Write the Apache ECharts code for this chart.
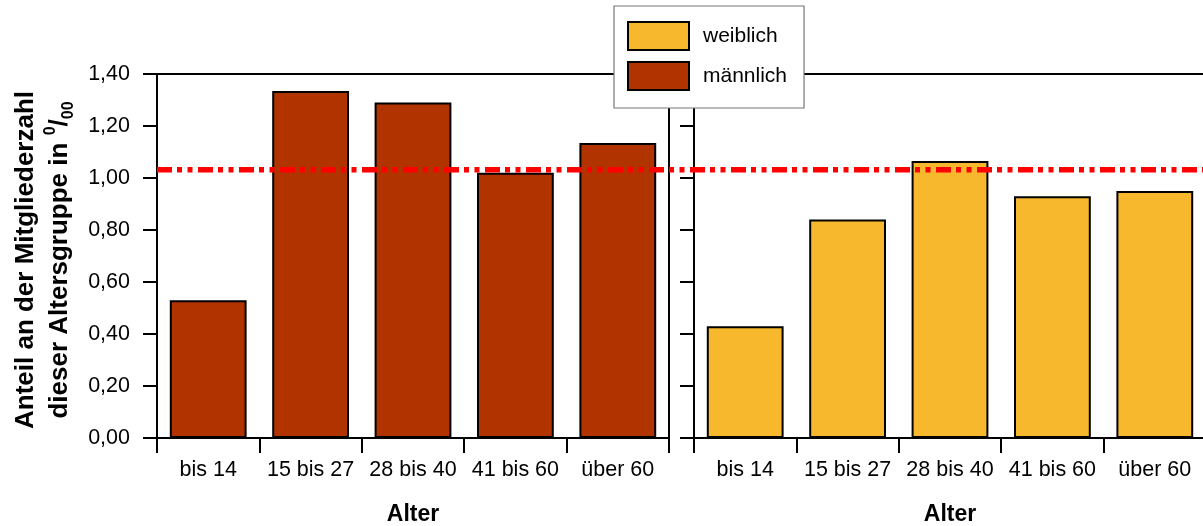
<!DOCTYPE html>
<html>
<head>
<meta charset="utf-8">
<script src="https://cdn.jsdelivr.net/npm/echarts@6/dist/echarts.min.js"></script>
<style>
  html, body { margin: 0; padding: 0; background: #fff; }
  #chart { width: 1203px; height: 526px; }
</style>
</head>
<body>
<div id="chart"></div>
<script>
// ---- data ----
const categories = ['bis 14', '15 bis 27', '28 bis 40', '41 bis 60', 'über 60'];
const maleValues = [0.53, 1.335, 1.29, 1.02, 1.135];
const femaleValues = [0.43, 0.84, 1.065, 0.93, 0.95];
const referenceValue = 1.032;
const yMin = 0;
const yMax = 1.4;
const yInterval = 0.2;
const xAxisTitle = 'Alter';
const legendNames = ['weiblich', 'männlich'];

// ---- styles ----
const FONT = '"Liberation Sans", Arial, sans-serif';
const MALE_COLOR = '#B03300';
const FEMALE_COLOR = '#F8B82E';

const chart = echarts.init(document.getElementById('chart'), null, { renderer: 'canvas' });

function catAxis(gridIndex) {
  return {
    type: 'category',
    gridIndex: gridIndex,
    data: categories,
    boundaryGap: true,
    axisLine: { show: true, lineStyle: { color: '#000', width: 2 } },
    axisTick: { show: true, interval: 0, length: 15, lineStyle: { color: '#000', width: 2 } },
    axisLabel: { show: true, interval: 0, color: '#000', fontSize: 21.5, fontFamily: FONT, margin: 21 },
    name: xAxisTitle,
    nameLocation: 'middle',
    nameGap: 65,
    nameTextStyle: { color: '#000', fontSize: 23, fontWeight: 'bold', fontFamily: FONT },
    splitLine: { show: false }
  };
}

function valAxis(gridIndex, showLabels) {
  const ax = {
    type: 'value',
    gridIndex: gridIndex,
    min: yMin,
    max: yMax,
    interval: yInterval,
    axisLine: { show: true, lineStyle: { color: '#000', width: 2 } },
    axisTick: { show: true, length: 14, lineStyle: { color: '#000', width: 2 } },
    axisLabel: {
      show: showLabels,
      color: '#000',
      fontSize: 21.5,
      fontFamily: FONT,
      margin: 27,
      formatter: v => v.toFixed(2).replace('.', ',')
    },
    splitLine: { show: false }
  };
  if (showLabels) {
    ax.name = '{b|Anteil an der Mitgliederzahl}\n{b|dieser Altersgruppe in }{sup|0}{b|/}{sub|00}';
    ax.nameLocation = 'middle';
    ax.nameRotate = 90;
    ax.nameGap = 80;
    ax.nameTextStyle = {
      color: '#000',
      fontFamily: FONT,
      fontWeight: 'bold',
      fontSize: 26,
      padding: [0, 8, 0, 0],
      rich: {
        b: { fontSize: 26, fontWeight: 'bold', fontFamily: FONT, color: '#000', lineHeight: 34 },
        sup: { fontSize: 16, fontWeight: 'bold', fontFamily: FONT, color: '#000', lineHeight: 12, verticalAlign: 'top' },
        sub: { fontSize: 16, fontWeight: 'bold', fontFamily: FONT, color: '#000', lineHeight: 22, verticalAlign: 'bottom' }
      }
    };
  }
  return ax;
}

const option = {
  animation: false,
  backgroundColor: '#fff',
  textStyle: { fontFamily: FONT },
  grid: [
    { left: 157, top: 74, width: 512, height: 364, show: true, borderColor: '#000', borderWidth: 2, backgroundColor: 'transparent', containLabel: false, outerBoundsMode: 'none' },
    { left: 694, top: 74, width: 512, height: 364, show: true, borderColor: '#000', borderWidth: 2, backgroundColor: 'transparent', containLabel: false, outerBoundsMode: 'none' },
    { left: 157, top: 74, width: 1049, height: 364, show: false, containLabel: false, outerBoundsMode: 'none' }
  ],
  xAxis: [
    catAxis(0),
    catAxis(1),
    { type: 'value', gridIndex: 2, min: 0, max: 1, show: false }
  ],
  yAxis: [
    valAxis(0, true),
    valAxis(1, false),
    { type: 'value', gridIndex: 2, min: yMin, max: yMax, show: false }
  ],
  legend: {
    data: legendNames,
    orient: 'vertical',
    left: 614,
    top: 6,
    itemWidth: 61,
    itemHeight: 28,
    itemGap: 10,
    padding: [15, 17, 17, 13],
    backgroundColor: '#fff',
    borderColor: '#777',
    borderWidth: 1.2,
    borderRadius: 0,
    icon: 'rect',
    textStyle: { color: '#000', fontSize: 21, fontFamily: FONT, padding: [0, 0, 0, 9] },
    z: 10
  },
  series: [
    {
      name: 'männlich',
      type: 'bar',
      xAxisIndex: 0,
      yAxisIndex: 0,
      data: maleValues,
      barCategoryGap: '25%',
      itemStyle: { color: MALE_COLOR, borderColor: '#000', borderWidth: 2 }
    },
    {
      name: 'weiblich',
      type: 'bar',
      xAxisIndex: 1,
      yAxisIndex: 1,
      data: femaleValues,
      barCategoryGap: '25%',
      itemStyle: { color: FEMALE_COLOR, borderColor: '#000', borderWidth: 2 }
    },
    {
      name: 'Referenz',
      type: 'line',
      xAxisIndex: 2,
      yAxisIndex: 2,
      data: [[0, referenceValue], [1, referenceValue]],
      symbol: 'none',
      silent: true,
      z: 5,
      lineStyle: { color: '#ff0000', width: 5.5, type: [15, 5, 5, 5.5, 5, 5.5], cap: 'butt' }
    }
  ]
};

chart.setOption(option);
</script>
</body>
</html>
